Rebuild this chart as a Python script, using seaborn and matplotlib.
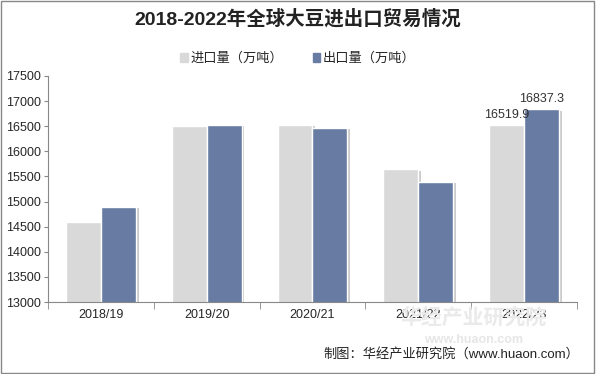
import pandas as pd
import numpy as np
import matplotlib.pyplot as plt
import matplotlib.patheffects as pe
import seaborn as sns

# 数据
years = ['2018/19', '2019/20', '2020/21', '2021/22', '2022/23']
imports = [14600, 16510, 16530, 15640, 16519.9]
exports = [14900, 16525, 16465, 15390, 16837.3]
series_names = ['进口量（万吨）', '出口量（万吨）']

df = pd.DataFrame({
    'year': years * 2,
    'value': imports + exports,
    'kind': [series_names[0]] * len(years) + [series_names[1]] * len(years),
})

sns.set_style('white')
plt.rcParams['font.family'] = ['Liberation Sans', 'Noto Sans CJK SC', 'DejaVu Sans']

fig = plt.figure(figsize=(5.96, 3.74), dpi=100)
ax = fig.add_axes([0.0805, 0.1925, 0.8875, 0.6045])

sns.barplot(data=df, x='year', y='value', hue='kind', width=0.66,
            palette=['#D9D9D9', '#687CA3'], ax=ax, legend=False,
            saturation=1)

for bar in ax.patches:
    bar.set_path_effects([pe.SimplePatchShadow(offset=(2, -1), shadow_rgbFace='#999999', alpha=0.5),
                          pe.Normal()])

ax.set_ylim(13000, 17500)
ax.set_yticks(np.arange(13000, 17501, 500))
ax.set_xlim(-0.5, 4.5)
ax.set_xlabel('')
ax.set_ylabel('')
ax.tick_params(axis='y', labelsize=9, length=3, color='#888888', pad=2, left=True)
ax.tick_params(axis='x', labelsize=9, length=0, pad=5)
ax.set_xticks(np.arange(-0.5, 4.6, 1), minor=True)
ax.tick_params(axis='x', which='minor', length=5, color='#888888', bottom=True)
for s in ['top', 'right']:
    ax.spines[s].set_visible(False)
for s in ['left', 'bottom']:
    ax.spines[s].set_color('#888888')
    ax.spines[s].set_linewidth(0.8)

# 数据标签（仅最后一组）
for c in ax.containers:
    bar = c.patches[-1]
    ax.annotate(f'{bar.get_height():.1f}', (bar.get_x() + bar.get_width() / 2, bar.get_height()),
                xytext=(0, 3), textcoords='offset points', ha='center', va='bottom',
                fontsize=9, color='#333333')

# 图例
handles = [plt.Rectangle((0, 0), 1, 1, color=col) for col in ['#D9D9D9', '#687CA3']]
fig.legend(handles, series_names, loc='center', bbox_to_anchor=(0.5, 0.843), ncol=2,
           frameon=False, fontsize=9.5, handlelength=0.6, handleheight=0.6,
           handletextpad=0.2, columnspacing=2.2)

fig.text(0.5, 0.95, '2018-2022年全球大豆进出口贸易情况', ha='center', va='center',
         fontsize=14, fontweight='bold', color='#222222')

# 水印
fig.text(0.795, 0.15, '华经产业研究院', ha='center', va='center', fontsize=15,
         color='#EAEAEA', fontweight='bold', zorder=0)
fig.text(0.795, 0.09, 'www.huaon.com', ha='center', va='center', fontsize=9,
         color='#E6E6E6', fontweight='bold', zorder=0)

fig.text(0.972, 0.052, '制图：华经产业研究院（www.huaon.com）', ha='right', va='center',
         fontsize=9.5, color='#222222')

fig.patches.append(plt.Rectangle((0.002, 0.003), 0.995, 0.993, transform=fig.transFigure,
                                 fill=False, edgecolor='#888888', linewidth=1))

fig.savefig('out.png', dpi=100)
